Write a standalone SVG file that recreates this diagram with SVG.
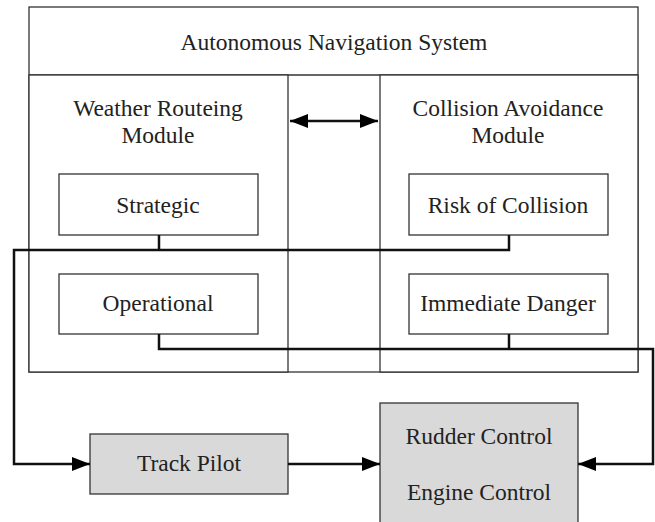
<svg xmlns="http://www.w3.org/2000/svg" width="655" height="522" viewBox="0 0 655 522">
<style>
.box{fill:#fff;stroke:#333;stroke-width:1.3}
.grey{fill:#d9d9d9;stroke:#333;stroke-width:1.3}
.t{font-family:"Liberation Serif","Times New Roman",serif;font-size:23.5px;fill:#222;text-anchor:middle}
.c{fill:none;stroke:#111;stroke-width:2.5}
</style>
<defs>
<marker id="ah" viewBox="0 0 18 14" refX="18" refY="7" markerWidth="18" markerHeight="14" markerUnits="userSpaceOnUse" orient="auto-start-reverse">
<path d="M0,0 L18,7 L0,14 Z" fill="#000"/>
</marker>
</defs>
<rect width="655" height="522" fill="#fff"/>
<g id="system">
<rect class="box" x="29" y="7" width="609" height="365"/>
<line x1="29" y1="75" x2="638" y2="75" stroke="#333" stroke-width="1.3"/>
<text class="t" x="334" y="50">Autonomous Navigation System</text>
</g>
<g id="weather">
<rect class="box" x="29" y="75" width="259" height="297"/>
<text class="t" x="158" y="116">Weather Routeing</text>
<text class="t" x="158" y="143">Module</text>
</g>
<g id="collision">
<rect class="box" x="380" y="75" width="258" height="297"/>
<text class="t" x="508" y="116">Collision Avoidance</text>
<text class="t" x="508" y="143">Module</text>
</g>
<g id="strategic">
<rect class="box" x="59" y="174" width="199" height="61"/>
<text class="t" x="158" y="213">Strategic</text>
</g>
<g id="risk">
<rect class="box" x="409" y="174" width="199" height="61"/>
<text class="t" x="508" y="213">Risk of Collision</text>
</g>
<g id="operational">
<rect class="box" x="59" y="274" width="199" height="60"/>
<text class="t" x="158" y="311">Operational</text>
</g>
<g id="danger">
<rect class="box" x="409" y="274" width="199" height="60"/>
<text class="t" x="508" y="311">Immediate Danger</text>
</g>
<g id="trackpilot">
<rect class="grey" x="90" y="434" width="198" height="60"/>
<text class="t" x="189" y="471">Track Pilot</text>
</g>
<g id="control">
<rect class="grey" x="380" y="403" width="198" height="125"/>
<text class="t" x="479" y="444">Rudder Control</text>
<text class="t" x="479" y="500">Engine Control</text>
</g>
<g id="connectors">
<line class="c" x1="290" y1="121" x2="378" y2="121" marker-start="url(#ah)" marker-end="url(#ah)"/>
<polyline class="c" points="159,235 159,250"/>
<polyline class="c" points="509,235 509,250 14,250 14,464 90,464" marker-end="url(#ah)"/>
<polyline class="c" points="509,334 509,349"/>
<polyline class="c" points="159,334 159,349 653,349 653,464 578,464" marker-end="url(#ah)"/>
<line class="c" x1="288" y1="464" x2="380" y2="464" marker-end="url(#ah)"/>
</g>
</svg>
